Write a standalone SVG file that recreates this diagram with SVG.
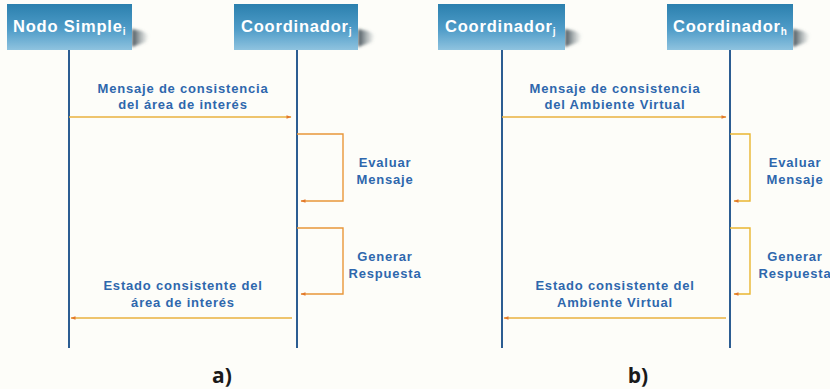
<svg xmlns="http://www.w3.org/2000/svg" width="830" height="389" viewBox="0 0 830 389">
  <defs>
    <linearGradient id="boxFill" x1="0" y1="0" x2="0" y2="1">
      <stop offset="0" stop-color="#2b80ae"/>
      <stop offset="0.55" stop-color="#4f9cc8"/>
      <stop offset="1" stop-color="#8fc3df"/>
    </linearGradient>
    <linearGradient id="shadowFill" x1="0" y1="0" x2="1" y2="0">
      <stop offset="0" stop-color="#2c3a44" stop-opacity="0.9"/>
      <stop offset="1" stop-color="#6a7a80" stop-opacity="0"/>
    </linearGradient>
    <filter id="soft" x="-30%" y="-30%" width="160%" height="160%">
      <feGaussianBlur stdDeviation="1.6"/>
    </filter>
    <marker id="arrow" viewBox="0 0 10 10" refX="9" refY="5" markerWidth="7" markerHeight="5" orient="auto" markerUnits="userSpaceOnUse">
      <path d="M0,1.5 L10,5 L0,8.5 Z" fill="#e3782c"/>
    </marker>
  </defs>
  <style>
    .head { font-family: "Liberation Sans", Arial, sans-serif; font-weight: bold; font-size: 16.5px; fill: #ffffff; letter-spacing: 0.8px; }
    .sub { font-size: 10px; letter-spacing: 0; }
    .label { font-family: "Liberation Sans", Arial, sans-serif; font-weight: bold; font-size: 13px; fill: #2e67ad; text-anchor: middle; letter-spacing: 0.8px; }
    .caption { font-family: "Open Sans", "Liberation Sans", sans-serif; font-weight: bold; font-size: 21px; fill: #1a1a1a; text-anchor: middle; }
    .life { stroke: #2c5d92; stroke-width: 2; fill: none; }
    .msg { stroke: #e9b13e; stroke-width: 1.4; fill: none; marker-end: url(#arrow); }
    .loopA { stroke: #e8963a; stroke-width: 1.4; fill: none; marker-end: url(#arrow); }
    .loopB { stroke: #e9b530; stroke-width: 1.4; fill: none; marker-end: url(#arrow); }
  </style>

  <rect x="0" y="0" width="830" height="389" fill="#fdfdf9"/>

  <!-- lifelines -->
  <g id="lifelines">
    <line class="life" x1="69" y1="50" x2="69" y2="348"/>
    <line class="life" x1="297" y1="50" x2="297" y2="348"/>
    <line class="life" x1="502" y1="50" x2="502" y2="348"/>
    <line class="life" x1="730" y1="50" x2="730" y2="348"/>
  </g>

  <!-- participant headers -->
  <g id="nodo-simple-i">
    <polygon points="132,29 142,31 149,35 146,42 132,47" fill="url(#shadowFill)" filter="url(#soft)"/>
    <rect x="7" y="4" width="125" height="46" fill="url(#boxFill)"/>
    <text class="head" x="13" y="32">Nodo Simple<tspan class="sub" dy="3">i</tspan></text>
  </g>
  <g id="coordinador-j-a">
    <polygon points="358,29 368,31 375,35 372,42 358,47" fill="url(#shadowFill)" filter="url(#soft)"/>
    <rect x="234" y="4" width="124" height="46" fill="url(#boxFill)"/>
    <text class="head" x="241" y="32">Coordinador<tspan class="sub" dy="3">j</tspan></text>
  </g>
  <g id="coordinador-j-b">
    <polygon points="565,29 575,31 582,35 579,42 565,47" fill="url(#shadowFill)" filter="url(#soft)"/>
    <rect x="438" y="4" width="127" height="46" fill="url(#boxFill)"/>
    <text class="head" x="445" y="32">Coordinador<tspan class="sub" dy="3">j</tspan></text>
  </g>
  <g id="coordinador-h">
    <polygon points="793,29 803,31 810,35 807,42 793,47" fill="url(#shadowFill)" filter="url(#soft)"/>
    <rect x="667" y="4" width="126" height="46" fill="url(#boxFill)"/>
    <text class="head" x="673" y="32">Coordinador<tspan class="sub" dy="3">h</tspan></text>
  </g>

  <!-- messages and self-calls -->
  <g id="connectors">
    <line class="msg" x1="69" y1="117" x2="291" y2="117"/>
    <polyline class="loopA" points="297,134 343,134 343,201 301,201"/>
    <polyline class="loopA" points="297,228 343,228 343,294 301,294"/>
    <line class="msg" x1="292" y1="318" x2="71" y2="318"/>

    <line class="msg" x1="502" y1="117" x2="726" y2="117"/>
    <polyline class="loopB" points="730,134 750,134 750,201 734,201"/>
    <polyline class="loopB" points="730,228 750,228 750,294 734,294"/>
    <line class="msg" x1="726" y1="318" x2="504" y2="318"/>
  </g>

  <!-- labels -->
  <g id="labels-a">
    <text class="label" x="183" y="93">Mensaje de consistencia</text>
    <text class="label" x="183" y="109">del área de interés</text>
    <text class="label" x="385" y="167">Evaluar</text>
    <text class="label" x="385" y="184">Mensaje</text>
    <text class="label" x="385" y="261">Generar</text>
    <text class="label" x="385" y="278">Respuesta</text>
    <text class="label" x="183" y="290">Estado consistente del</text>
    <text class="label" x="183" y="307">área de interés</text>
    <text class="caption" x="222" y="383">a)</text>
  </g>
  <g id="labels-b">
    <text class="label" x="615" y="93">Mensaje de consistencia</text>
    <text class="label" x="615" y="109">del Ambiente Virtual</text>
    <text class="label" x="795" y="167">Evaluar</text>
    <text class="label" x="795" y="184">Mensaje</text>
    <text class="label" x="795" y="261">Generar</text>
    <text class="label" x="795" y="278">Respuesta</text>
    <text class="label" x="615" y="290">Estado consistente del</text>
    <text class="label" x="615" y="307">Ambiente Virtual</text>
    <text class="caption" x="638" y="383">b)</text>
  </g>
</svg>
